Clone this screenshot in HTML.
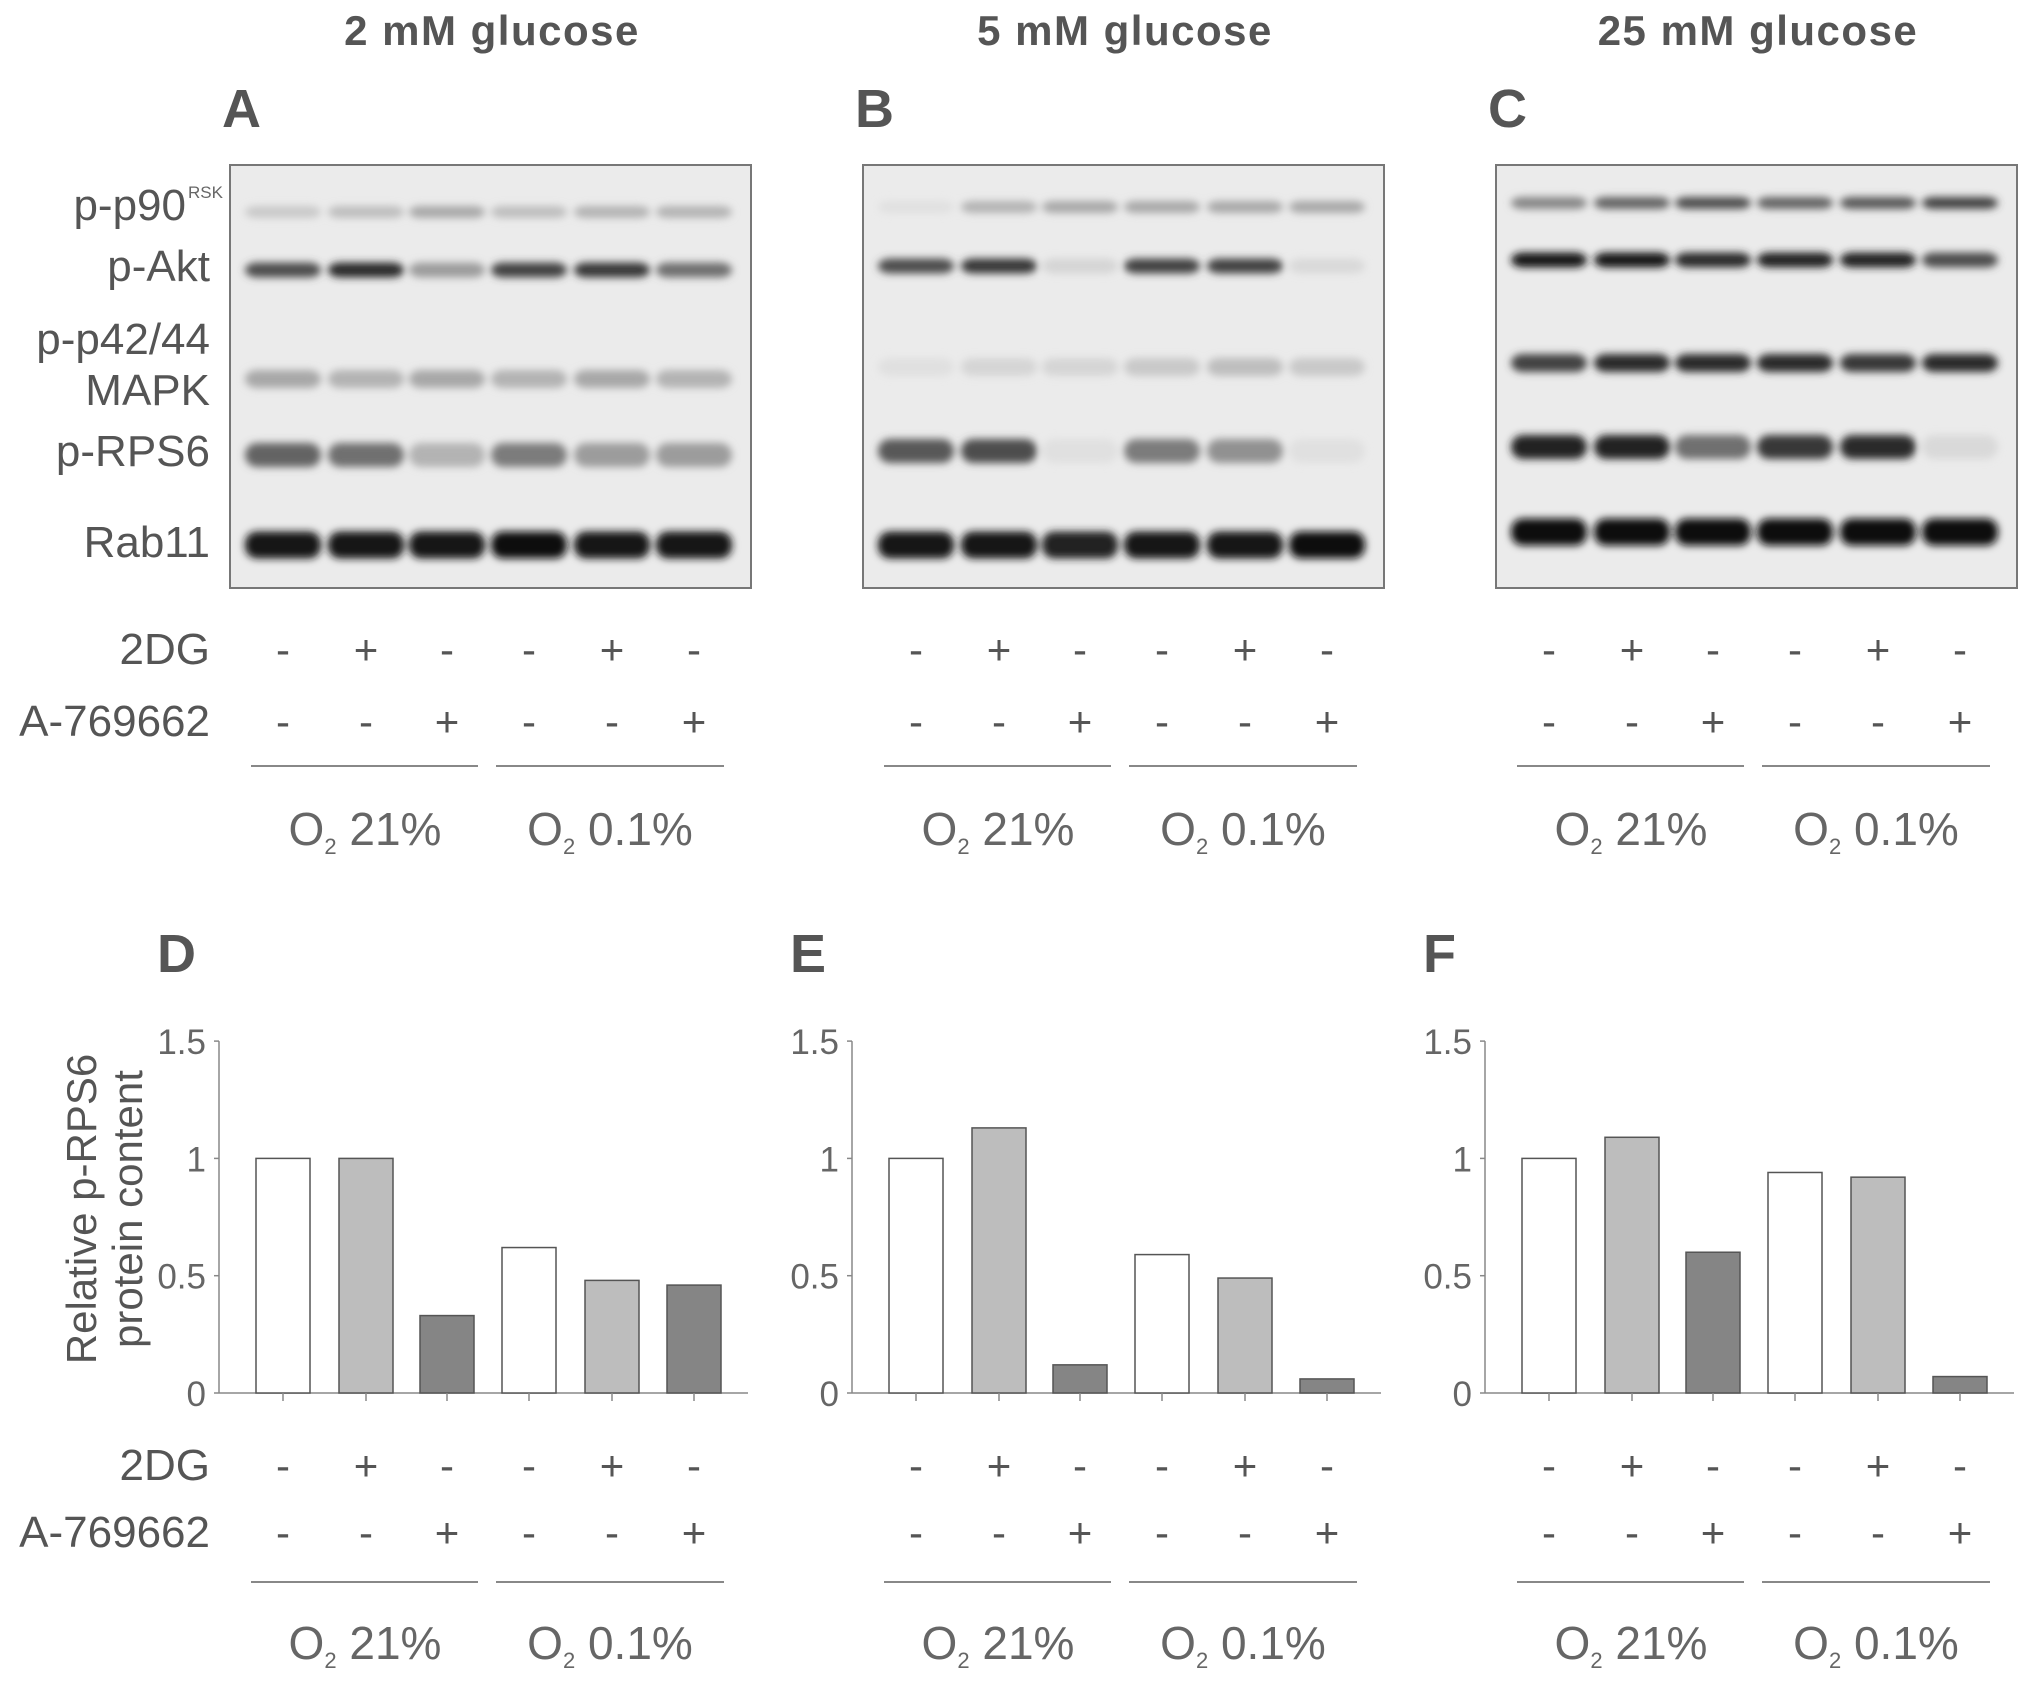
<!DOCTYPE html>
<html><head><meta charset="utf-8"><style>
html,body{margin:0;padding:0;background:#fff;}
svg{display:block;}
text{font-family:"Liberation Sans",Arial,sans-serif;}
</style></head><body>
<svg id="fig" width="2031" height="1681" viewBox="0 0 2031 1681" xmlns="http://www.w3.org/2000/svg">
<defs><filter id="blur" x="-20%" y="-100%" width="140%" height="300%"><feGaussianBlur stdDeviation="4"/></filter></defs>
</svg>
<script>
// ---- data ----
const panelTitles = ["2 mM glucose","5 mM glucose","25 mM glucose"];
const blotLetters = ["A","B","C"];
const chartLetters = ["D","E","F"];
const proteins = ["p-p90","p-Akt","p-p42/44 MAPK","p-RPS6","Rab11"];
const dg2 = ["-","+","-","-","+","-"];
const a769 = ["-","-","+","-","-","+"];
const yTicks = [0,0.5,1,1.5];
const yTickLabels = ["0","0.5","1","1.5"];
const barFills = ["#ffffff","#bdbdbd","#858585","#ffffff","#bdbdbd","#858585"];
const valuesD = [1.0,1.0,0.33,0.62,0.48,0.46];
const valuesE = [1.0,1.13,0.12,0.59,0.49,0.06];
const valuesF = [1.0,1.09,0.60,0.94,0.92,0.07];
// band darkness per panel [row][lane]
const bandsA = [[0.15,0.2,0.3,0.2,0.25,0.25],[0.7,0.85,0.35,0.75,0.8,0.55],[0.3,0.25,0.3,0.25,0.3,0.25],[0.6,0.55,0.25,0.5,0.35,0.35],[0.95,0.95,0.95,1,0.95,0.95]];
const bandsB = [[0.05,0.25,0.3,0.3,0.3,0.3],[0.7,0.8,0.1,0.75,0.75,0.08],[0.05,0.1,0.1,0.15,0.2,0.15],[0.65,0.7,0.05,0.5,0.4,0.05],[0.95,0.95,0.9,0.95,0.95,1]];
const bandsC = [[0.45,0.6,0.7,0.6,0.65,0.75],[0.95,0.95,0.85,0.9,0.9,0.7],[0.75,0.85,0.85,0.85,0.8,0.85],[0.9,0.9,0.55,0.8,0.85,0.08],[1,1,1,1,1,1]];

const svg = document.getElementById('fig');
const NS = "http://www.w3.org/2000/svg";
function mk(tag, attrs, parent){ const e=document.createElementNS(NS,tag); for(const k in attrs) e.setAttribute(k,attrs[k]); (parent||svg).appendChild(e); return e; }
function txt(x,y,s,size,attrs,parent){ const t=mk('text',Object.assign({x:x,y:y,'font-size':size,fill:'#555'},attrs||{}),parent); t.textContent=s; return t; }

const PDX = 633;
const laneOff = [53,136,217,299,382,464];
const bandY = [[212,270,379,455,545],[207,266,367,451,545],[203,260,363,447,532]];
const bandH = [12,15,18,24,27];
const allBands = [bandsA,bandsB,bandsC];
const allVals = [valuesD,valuesE,valuesF];

function treatmentRows(g, ox, y1, y2, lineY, o2Y){
  const rowData=[dg2,a769];
  [y1,y2].forEach((yy,r)=>{
    rowData[r].forEach((s,i)=>{
      const t=txt(ox+laneOff[i],yy,s==='+'?'+':'-',42,{'text-anchor':'middle',fill:'#555'},g);
      
      
    });
  });
  const l1=mk('line',{x1:ox+21,x2:ox+248,y1:lineY,y2:lineY,stroke:'#888','stroke-width':2},g);
   
  const l2=mk('line',{x1:ox+266,x2:ox+494,y1:lineY,y2:lineY,stroke:'#888','stroke-width':2},g);
   
  [[ox+135,'21%'],[ox+380,'0.1%']].forEach(([cx,s],k)=>{
    const t=txt(cx,o2Y,'',46,{'text-anchor':'middle',fill:'#666'},g);
    
    
    t.setAttribute('xml:space','preserve');
    t.innerHTML='O<tspan font-size="22" dy="9">2</tspan><tspan dy="-9">  '+s+'</tspan>';
  });
}

for(let p=0;p<3;p++){
  const ox=230+p*PDX;
  const g=mk('g',{});
  
  
  const tt=txt(ox+262,45,panelTitles[p],42,{'text-anchor':'middle','font-weight':'bold',fill:'#555','letter-spacing':1.5},g);
   
  const lt=txt(ox-8,127,blotLetters[p],54,{'font-weight':'bold',fill:'#555'},g);
   
  const box=mk('rect',{x:ox,y:165,width:521,height:423,fill:'#ebebeb',stroke:'#777','stroke-width':2},g);
   
  const bg=mk('g',{filter:'url(#blur)'},g);
  allBands[p].forEach((row,r)=>{
    row.forEach((d,i)=>{
      const v=Math.round(235-225*d);
      const b=mk('rect',{x:ox+laneOff[i]-38,y:bandY[p][r]-bandH[r]/2,width:76,height:bandH[r],rx:12,fill:'rgb('+v+','+v+','+v+')'},bg);
      
      
    });
  });
  treatmentRows(g,ox,664,736,766,845);
}
const labels=[['p-p90',220],['p-Akt',281],['p-p42/44',354],['MAPK',405],['p-RPS6',466],['Rab11',557]];
labels.forEach(([s,y])=>{
  const t=txt(210,y,s,44,{'text-anchor':'end',fill:'#555'});
  
  
  if(s==='p-p90'){ t.setAttribute('x',186); const sup=txt(188,198,'RSK',17,{fill:'#666'});   }
});
[['2DG',664],['A-769662',736],['2DG',1480],['A-769662',1547]].forEach(([s,y])=>{
  const t=txt(210,y,s,44,{'text-anchor':'end',fill:'#555'});
  
  
});

// bar charts
const y0=1393, pxPerUnit=234.6;
function yScale(v){ return y0 - v*pxPerUnit; }
function xCenter(ox,i){ return ox+laneOff[i]; }
for(let p=0;p<3;p++){
  const ox=230+p*PDX;
  const ax=219+p*PDX;
  const g=mk('g',{});
  
  
  const lt=txt(ax-62,972,chartLetters[p],54,{'font-weight':'bold',fill:'#555'},g);
   
  const ya=mk('line',{x1:ax,x2:ax,y1:yScale(1.5),y2:y0,stroke:'#888','stroke-width':1.5},g);
   
  const xa=mk('line',{x1:ax,x2:ax+529,y1:y0,y2:y0,stroke:'#888','stroke-width':1.5},g);
   
  yTicks.forEach((v,k)=>{
    const tk=mk('line',{x1:ax-5,x2:ax,y1:yScale(v),y2:yScale(v),stroke:'#888','stroke-width':1.5},g);
     
    const tl=txt(ax-13,yScale(v)+13,yTickLabels[k],35,{'text-anchor':'end',fill:'#666'},g);
     
  });
  allVals[p].forEach((v,i)=>{
    const cx=xCenter(ox,i);
    const b=mk('rect',{x:cx-27,y:yScale(v),width:54,height:v*pxPerUnit,fill:barFills[i],stroke:'#555','stroke-width':1.5},g);
    
    
    const tk=mk('line',{x1:cx,x2:cx,y1:y0,y2:y0+8,stroke:'#888','stroke-width':1.5},g);
     
  });
  treatmentRows(g,ox,1480,1547,1582,1659);
}
const yt=mk('text',{transform:'translate(96,1209) rotate(-90)','text-anchor':'middle','font-size':42,fill:'#555'});
 
yt.innerHTML='<tspan x="0" dy="0">Relative p-RPS6</tspan><tspan x="0" dy="46">protein content</tspan>';
</script>
</body></html>
